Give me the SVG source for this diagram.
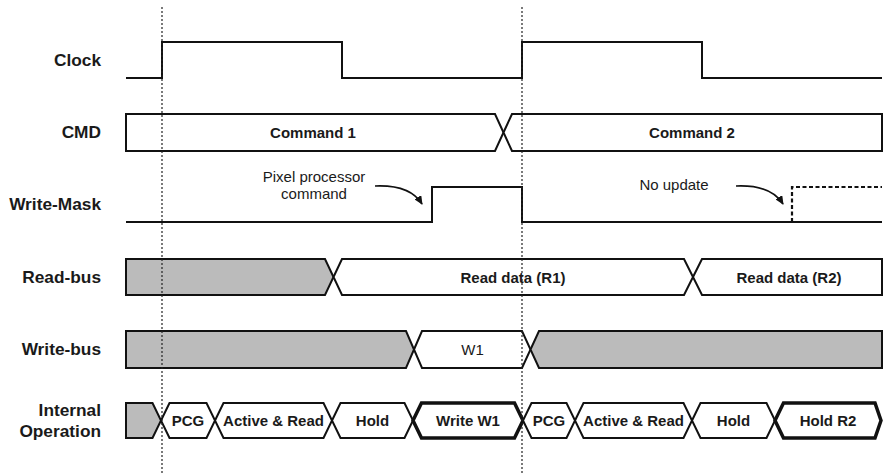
<svg xmlns="http://www.w3.org/2000/svg" width="884" height="475" viewBox="0 0 884 475">
<style>
.lbl{font-family:"Liberation Sans",Arial,sans-serif;font-weight:bold;font-size:17.3px;fill:#1a1a1a;text-anchor:end}
.in{font-family:"Liberation Sans",Arial,sans-serif;font-weight:bold;font-size:15px;fill:#1a1a1a;text-anchor:middle}
.note{font-family:"Liberation Sans",Arial,sans-serif;font-size:15px;fill:#1a1a1a;text-anchor:middle}
.sig{fill:none;stroke:#111;stroke-width:2;stroke-linejoin:miter}
.box{fill:#fff;stroke:#111;stroke-width:2;stroke-linejoin:miter}
.grey{fill:#bbbbbb;stroke:#111;stroke-width:2;stroke-linejoin:miter}
.thick{fill:#fff;stroke:#111;stroke-width:3.5;stroke-linejoin:miter}
.dot{stroke:#222;stroke-width:1.2;stroke-dasharray:2,2;fill:none}
.dash{fill:none;stroke:#111;stroke-width:2.2;stroke-dasharray:4,2.5}
.arr{fill:none;stroke:#111;stroke-width:1.6}
</style>
<defs>
<marker id="ah" markerUnits="userSpaceOnUse" markerWidth="9" markerHeight="8" refX="8" refY="4" orient="auto">
<path d="M0,0 L9,4 L0,8 Z" fill="#111"/>
</marker>
</defs>
<rect width="884" height="475" fill="#fff"/>

<g id="clock">
<text class="lbl" x="101" y="66">Clock</text>
<path class="sig" d="M126,78 H162 V42 H342 V78 H522 V42 H702 V78 H882"/>
</g>

<g id="cmd">
<text class="lbl" x="101" y="138">CMD</text>
<path class="box" d="M126,114 H495 L503.5,132.5 L495,151 H126 Z"/>
<path class="box" d="M503.5,132.5 L512,114 H882 V151 H512 Z"/>
<text class="in" x="313" y="138">Command 1</text>
<text class="in" x="692" y="138">Command 2</text>
</g>

<g id="write-mask">
<text class="lbl" x="101" y="210">Write-Mask</text>
<path class="sig" d="M126,222 H432 V187 H522 V222 H882"/>
<path class="dash" d="M792,222 V187 H882"/>
<text class="note" x="314" y="182">Pixel processor</text>
<text class="note" x="314" y="199">command</text>
<text class="note" x="674" y="190">No update</text>
</g>

<g id="read-bus">
<text class="lbl" x="101" y="282.5">Read-bus</text>
<path class="grey" d="M126,259 H325 L333.5,277 L325,295 H126 Z"/>
<path class="box" d="M333.5,277 L342,259 H684 L693,277 L684,295 H342 Z"/>
<path class="box" d="M693,277 L702,259 H882 V295 H702 Z"/>
<text class="in" x="513" y="282.5">Read data (R1)</text>
<text class="in" x="789" y="282.5">Read data (R2)</text>
</g>

<g id="write-bus">
<text class="lbl" x="101" y="354.5">Write-bus</text>
<path class="grey" d="M126,331 H406 L414,349.5 L406,368 H126 Z"/>
<path class="box" d="M414,349.5 L422,331 H522 L530.5,349.5 L522,368 H422 Z"/>
<path class="grey" d="M530.5,349.5 L539,331 H882 V368 H539 Z"/>
<text class="note" x="472.5" y="355">W1</text>
</g>

<g id="internal-operation">
<text class="lbl" x="101" y="416">Internal</text>
<text class="lbl" x="101" y="437">Operation</text>
<path class="grey" d="M126,403 H152.5 L161,420.5 L152.5,438 H126 Z"/>
<path class="box" d="M161,420.5 L169.5,403 H206.5 L215,420.5 L206.5,438 H169.5 Z"/>
<path class="box" d="M215,420.5 L223.5,403 H323.5 L332,420.5 L323.5,438 H223.5 Z"/>
<path class="box" d="M332,420.5 L340.5,403 H404.5 L413,420.5 L404.5,438 H340.5 Z"/>
<path class="thick" d="M413,420.5 L421.5,403 H514.5 L523,420.5 L514.5,438 H421.5 Z"/>
<path class="box" d="M523,420.5 L531.5,403 H566.5 L575,420.5 L566.5,438 H531.5 Z"/>
<path class="box" d="M575,420.5 L583.5,403 H683.5 L692,420.5 L683.5,438 H583.5 Z"/>
<path class="box" d="M692,420.5 L700.5,403 H766.5 L775,420.5 L766.5,438 H700.5 Z"/>
<path class="thick" d="M775,420.5 L783.5,403 H875 L881,420.5 L875,438 H783.5 Z"/>
<text class="in" x="188" y="426">PCG</text>
<text class="in" x="273.5" y="426">Active &amp; Read</text>
<text class="in" x="372.5" y="426">Hold</text>
<text class="in" x="468" y="426">Write W1</text>
<text class="in" x="549" y="426">PCG</text>
<text class="in" x="633.5" y="426">Active &amp; Read</text>
<text class="in" x="733.5" y="426">Hold</text>
<text class="in" x="828" y="426">Hold R2</text>
</g>

<g id="guides">
<line class="dot" x1="162" y1="7" x2="162" y2="475"/>
<line class="dot" x1="522" y1="7" x2="522" y2="475"/>
</g>

<g id="connectors">
<path class="arr" d="M375,186 C398,185 414,191 422,204" marker-end="url(#ah)"/>
<path class="arr" d="M736,186 C759,185 775,191 783,204" marker-end="url(#ah)"/>
</g>
</svg>
